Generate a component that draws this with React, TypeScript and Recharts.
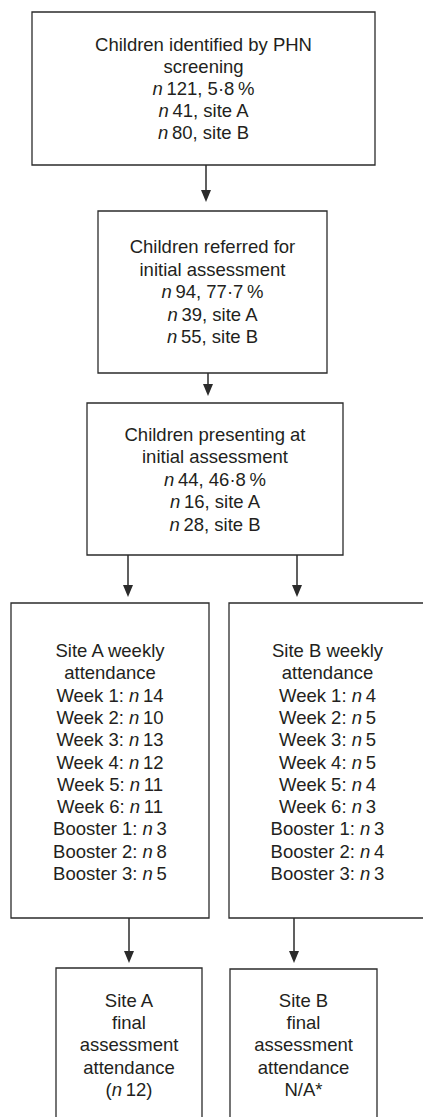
import { ComposedChart, XAxis, YAxis, ReferenceArea, ReferenceLine, Scatter } from "recharts";

// flow counts
const identified = { n: 121, pct: "5·8", siteA: 41, siteB: 80 };
const referred = { n: 94, pct: "77·7", siteA: 39, siteB: 55 };
const presenting = { n: 44, pct: "46·8", siteA: 16, siteB: 28 };

const sessions = ["Week 1", "Week 2", "Week 3", "Week 4", "Week 5", "Week 6", "Booster 1", "Booster 2", "Booster 3"];
const siteAAttendance = [14, 10, 13, 12, 11, 11, 3, 8, 5];
const siteBAttendance = [4, 5, 5, 5, 4, 3, 3, 4, 3];
const siteAFinal = "(_n_\u200912)";
const siteBFinal = "N/A*";

const W = 423;
const H = 1117;
const TEXT = "#231f20";
const LINE = "#2b2b2b";
const FONT = "'Liberation Sans', Arial, Helvetica, sans-serif";

const nLine = (n: number, rest: string) => `_n_\u2009${n}, ${rest}`;

const boxes = [
  {
    x1: 32, x2: 375, y1: 12, y2: 165, cx: 203.5, top: 50.5, step: 22.1,
    lines: ["Children identified by PHN", "screening", nLine(identified.n, `${identified.pct}\u2009%`), nLine(identified.siteA, "site A"), nLine(identified.siteB, "site B")],
  },
  {
    x1: 98, x2: 327, y1: 211, y2: 373, cx: 212.5, top: 253.3, step: 22.5,
    lines: ["Children referred for", "initial assessment", nLine(referred.n, `${referred.pct}\u2009%`), nLine(referred.siteA, "site A"), nLine(referred.siteB, "site B")],
  },
  {
    x1: 87, x2: 343, y1: 403, y2: 555, cx: 215, top: 440.7, step: 22.5,
    lines: ["Children presenting at", "initial assessment", nLine(presenting.n, `${presenting.pct}\u2009%`), nLine(presenting.siteA, "site A"), nLine(presenting.siteB, "site B")],
  },
  {
    x1: 11, x2: 209, y1: 603, y2: 918, cx: 110, top: 657, step: 22.3,
    lines: ["Site A weekly", "attendance", ...sessions.map((s, i) => `${s}: _n_\u2009${siteAAttendance[i]}`)],
  },
  {
    x1: 229, x2: 430, y1: 603, y2: 918, cx: 327.5, top: 657, step: 22.3,
    lines: ["Site B weekly", "attendance", ...sessions.map((s, i) => `${s}: _n_\u2009${siteBAttendance[i]}`)],
  },
  {
    x1: 56, x2: 202, y1: 968, y2: 1140, cx: 129, top: 1006.7, step: 22.3,
    lines: ["Site A", "final", "assessment", "attendance", siteAFinal],
  },
  {
    x1: 230, x2: 377, y1: 969, y2: 1140, cx: 303.5, top: 1006.7, step: 22.3,
    lines: ["Site B", "final", "assessment", "attendance", siteBFinal],
  },
];

const arrows = [
  { x: 206, from: 165, to: 202 },
  { x: 208, from: 373, to: 396 },
  { x: 128, from: 555, to: 597 },
  { x: 297, from: 555, to: 597 },
  { x: 129, from: 918, to: 963 },
  { x: 294, from: 918, to: 963 },
];

const textPoints = boxes.flatMap((b) => b.lines.map((line, i) => ({ x: b.cx, y: b.top + i * b.step, line })));
const tipPoints = arrows.map((a) => ({ x: a.x, y: a.to }));

const TextShape = (props: any) => {
  const parts = String(props.payload.line).split(/(_n_)/).filter((p) => p !== "");
  return (
    <text x={props.cx} y={props.cy} textAnchor="middle" fill={TEXT} fontSize={18.5} fontFamily={FONT}>
      {parts.map((p, i) =>
        p === "_n_" ? (
          <tspan key={i} fontStyle="italic">n</tspan>
        ) : (
          <tspan key={i}>{p}</tspan>
        )
      )}
    </text>
  );
};

const ArrowHead = (props: any) => {
  const { cx, cy } = props;
  return <path d={`M${cx - 5},${cy - 12} L${cx + 5},${cy - 12} L${cx},${cy} Z`} fill={LINE} />;
};

export default function App() {
  return (
    <div style={{ position: "absolute", left: 0, top: 0, width: W, height: H, background: "#fff" }}>
      <ComposedChart width={W} height={H} margin={{ top: 0, right: 0, bottom: 0, left: 0 }}>
        <XAxis type="number" dataKey="x" domain={[0, W]} hide allowDataOverflow />
        <YAxis type="number" dataKey="y" domain={[0, H]} reversed hide allowDataOverflow />
        {boxes.map((b, i) => (
          <ReferenceArea
            key={`box-${i}`}
            x1={b.x1}
            x2={b.x2}
            y1={b.y1}
            y2={b.y2}
            ifOverflow="visible"
            fill="none"
            stroke={LINE}
            strokeWidth={1.3}
          />
        ))}
        {arrows.map((a, i) => (
          <ReferenceLine
            key={`arrow-${i}`}
            segment={[{ x: a.x, y: a.from }, { x: a.x, y: a.to - 10 }]}
            stroke={LINE}
            strokeWidth={1.5}
            ifOverflow="visible"
          />
        ))}
        <Scatter data={tipPoints} shape={<ArrowHead />} isAnimationActive={false} />
        <Scatter data={textPoints} shape={<TextShape />} isAnimationActive={false} />
      </ComposedChart>
    </div>
  );
}
